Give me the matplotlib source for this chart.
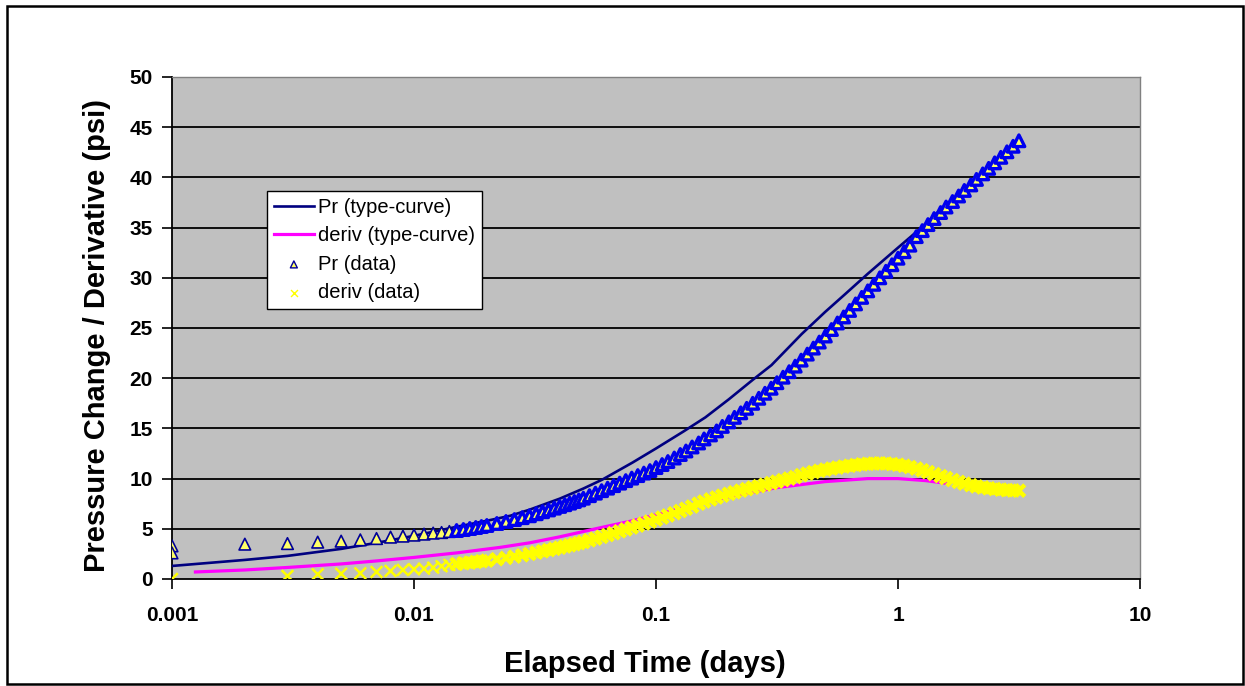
import matplotlib
matplotlib.use("Agg")
import matplotlib.pyplot as plt
from matplotlib.patches import Rectangle
from matplotlib.ticker import FixedLocator, NullLocator

plt.rcParams['font.family'] = ['Liberation Sans', 'DejaVu Sans']

# ---- type-curve (model) series ----
tc_time = [0.001, 0.0015, 0.002, 0.003, 0.005, 0.007, 0.01, 0.015, 0.02, 0.025,
           0.03, 0.04, 0.05, 0.06, 0.08, 0.1, 0.13, 0.16, 0.2, 0.25, 0.3, 0.4,
           0.5, 0.6, 0.75, 1.0, 1.25, 1.5, 1.7]
tc_pr = [1.3, 1.65, 1.9, 2.3, 3.0, 3.6, 4.3, 5.2, 5.8, 6.3,
         6.9, 8.0, 9.0, 9.9, 11.6, 13.0, 14.7, 16.1, 17.9, 19.8, 21.3, 24.4,
         26.6, 28.3, 30.4, 33.0, 35.0, 36.8, 37.9]

tcd_time = [0.00125, 0.002, 0.003, 0.005, 0.007, 0.01, 0.015, 0.0227, 0.03, 0.04,
            0.0587, 0.08, 0.1, 0.152, 0.2, 0.316, 0.5, 0.75, 1.0, 1.3, 1.62]
tcd_deriv = [0.7, 0.9, 1.15, 1.5, 1.8, 2.15, 2.6, 3.15, 3.6, 4.2,
             5.1, 5.8, 6.4, 7.5, 8.2, 9.1, 9.7, 10.0, 10.0, 9.8, 9.5]

# ---- measured data ----
data_time = [0.001, 0.001, 0.002, 0.003, 0.004, 0.005, 0.006, 0.007, 0.008, 0.009,
             0.010, 0.011, 0.012, 0.013, 0.014, 0.015, 0.016, 0.017, 0.018, 0.019,
             0.020, 0.022, 0.024, 0.026, 0.028, 0.030, 0.032, 0.034, 0.036, 0.038,
             0.040, 0.042, 0.044, 0.046, 0.048,
             0.0501, 0.0531, 0.0562, 0.0596, 0.0631, 0.0668, 0.0708, 0.0750, 0.0794,
             0.0841, 0.0891, 0.0944, 0.100, 0.106, 0.112, 0.119, 0.126, 0.133, 0.141,
             0.150, 0.158, 0.168, 0.178, 0.188, 0.200, 0.211, 0.224, 0.237, 0.251,
             0.266, 0.282, 0.299, 0.316, 0.335, 0.355, 0.376, 0.398, 0.422, 0.447,
             0.473, 0.501, 0.531, 0.562, 0.596, 0.631, 0.668, 0.708, 0.750, 0.794,
             0.841, 0.891, 0.944, 1.00, 1.06, 1.12, 1.19, 1.26, 1.33, 1.41,
             1.50, 1.58, 1.68, 1.78, 1.88, 2.00, 2.11, 2.24, 2.37, 2.51,
             2.66, 2.82, 2.99, 3.16]
data_pr = [3.3, 2.6, 3.47, 3.53, 3.67, 3.77, 3.90, 4.03, 4.17, 4.27,
           4.37, 4.47, 4.57, 4.63, 4.73, 4.83, 4.93, 5.03, 5.13, 5.23,
           5.33, 5.53, 5.73, 5.92, 6.11, 6.30, 6.50, 6.70, 6.88, 7.06,
           7.23, 7.40, 7.56, 7.72, 7.88,
           8.05, 8.30, 8.55, 8.80, 9.05, 9.30, 9.55, 9.80, 10.05,
           10.30, 10.55, 10.80, 11.10, 11.40, 11.70, 12.05, 12.40, 12.75, 13.15,
           13.55, 13.95, 14.35, 14.75, 15.20, 15.65, 16.10, 16.55, 17.00, 17.50,
           18.00, 18.50, 19.00, 19.55, 20.10, 20.65, 21.20, 21.80, 22.40, 23.00,
           23.60, 24.20, 24.85, 25.50, 26.10, 26.75, 27.40, 28.05, 28.70, 29.35,
           30.00, 30.65, 31.30, 31.95, 32.60, 33.25, 34.10, 34.70, 35.30, 35.90,
           36.50, 37.05, 37.60, 38.15, 38.70, 39.25, 39.80, 40.35, 40.90, 41.45,
           42.00, 42.55, 43.10, 43.65]

deriv_time = [0.001, 0.003, 0.004, 0.005, 0.006, 0.007, 0.008, 0.009,
              0.010, 0.011, 0.012, 0.013, 0.014, 0.015, 0.016, 0.017, 0.018, 0.019,
              0.020, 0.022, 0.024, 0.026, 0.028, 0.030, 0.032, 0.034, 0.036, 0.038,
              0.040, 0.042, 0.044, 0.046, 0.048,
              0.0501, 0.0531, 0.0562, 0.0596, 0.0631, 0.0668, 0.0708, 0.0750, 0.0794,
              0.0841, 0.0891, 0.0944, 0.100, 0.106, 0.112, 0.119, 0.126, 0.133, 0.141,
              0.150, 0.158, 0.168, 0.178, 0.188, 0.200, 0.211, 0.224, 0.237, 0.251,
              0.266, 0.282, 0.299, 0.316, 0.335, 0.355, 0.376, 0.398, 0.422, 0.447,
              0.473, 0.501, 0.531, 0.562, 0.596, 0.631, 0.668, 0.708, 0.750, 0.794,
              0.841, 0.891, 0.944, 1.00, 1.06, 1.12, 1.19, 1.26, 1.33, 1.41,
              1.50, 1.58, 1.68, 1.78, 1.88, 2.00, 2.11, 2.24, 2.37, 2.51,
              2.66, 2.82, 2.99, 3.16]
deriv_val = [0.0, 0.30, 0.47, 0.53, 0.57, 0.70, 0.80, 0.90,
             0.97, 1.03, 1.13, 1.27, 1.40, 1.50, 1.57, 1.63, 1.70, 1.77,
             1.83, 1.97, 2.10, 2.23, 2.36, 2.50, 2.63, 2.76, 2.88, 3.00,
             3.12, 3.24, 3.35, 3.46, 3.57,
             3.68, 3.85, 4.02, 4.20, 4.38, 4.56, 4.75, 4.94, 5.13,
             5.32, 5.52, 5.72, 5.92, 6.12, 6.33, 6.55, 6.77, 7.00, 7.22,
             7.50, 7.72, 7.93, 8.12, 8.30, 8.48, 8.64, 8.80, 8.95, 9.10,
             9.25, 9.40, 9.55, 9.70, 9.85, 10.00, 10.15, 10.35, 10.50, 10.65,
             10.78, 10.90, 11.00, 11.10, 11.20, 11.28, 11.35, 11.42, 11.47, 11.50,
             11.52, 11.50, 11.45, 11.38, 11.28, 11.15, 11.00, 10.83, 10.65, 10.45,
             10.25, 10.05, 9.85, 9.67, 9.50, 9.35, 9.22, 9.12, 9.03, 8.96,
             8.90, 8.85, 8.82, 8.80]

x_ticks = [0.001, 0.01, 0.1, 1, 10]
x_tick_labels = ["0.001", "0.01", "0.1", "1", "10"]
y_ticks = [0, 5, 10, 15, 20, 25, 30, 35, 40, 45, 50]

fig = plt.figure(figsize=(12.45, 6.86), dpi=100)
fig.patch.set_facecolor("white")
ax = fig.add_axes([172 / 1245, 1 - 579 / 686, 968 / 1245, 502 / 686])
ax.set_facecolor("#C0C0C0")

ax.set_xscale("log")
ax.set_xlim(0.001, 10)
ax.set_ylim(0, 50)

# horizontal gridlines
for yv in y_ticks[1:-1]:
    ax.axhline(yv, color="black", lw=1.3, zorder=1)

ax.plot(tc_time, tc_pr, color="#000080", lw=1.9, zorder=3, label="Pr (type-curve)")
ax.plot(tcd_time, tcd_deriv, color="#FF00FF", lw=2.3, zorder=3, label="deriv (type-curve)")

# sparse early samples get thin outlines; where samples crowd together the
# overlapping outlines merge into a solid band
pr_edge = [1.2 if t < 0.015 else 2.4 for t in data_time]
pr_edgecolor = ["#000099" if t < 0.015 else "#0000EE" for t in data_time]
ax.scatter(data_time, data_pr, marker="^", s=70, facecolors="#FFFF66",
           edgecolors=pr_edgecolor, linewidths=pr_edge, zorder=4, label="Pr (data)")

dv_edge = [1.8 if t < 0.015 else 3.2 for t in deriv_time]
ax.scatter(deriv_time, deriv_val, marker="x", s=70, color="#FFFF00",
           linewidths=dv_edge, zorder=5, label="deriv (data)")

ax.xaxis.set_major_locator(FixedLocator(x_ticks))
ax.xaxis.set_minor_locator(NullLocator())
ax.set_xticklabels(x_tick_labels)
ax.yaxis.set_major_locator(FixedLocator(y_ticks))

ax.tick_params(axis="x", direction="out", length=7, width=1.2, pad=12.5,
               labelsize=15, colors="black")
ax.tick_params(axis="y", direction="out", length=7, width=1.2, pad=7,
               labelsize=15, colors="black")
for lab in ax.get_xticklabels() + ax.get_yticklabels():
    lab.set_fontweight("bold")

for side in ("left", "bottom"):
    ax.spines[side].set_color("black")
    ax.spines[side].set_linewidth(1.3)
for side in ("top", "right"):
    ax.spines[side].set_color("#808080")
    ax.spines[side].set_linewidth(1.0)

ax.set_xlabel("Elapsed Time (days)", fontsize=21, fontweight="bold", labelpad=18,
              x=0.4886)
ax.set_ylabel("Pressure Change / Derivative (psi)", fontsize=21, fontweight="bold",
              labelpad=13, y=0.486)

leg = ax.legend(loc="upper left", bbox_to_anchor=(0.0978, 0.7735), borderaxespad=0,
                fontsize=14.5, frameon=True, fancybox=False, framealpha=1,
                edgecolor="black", handlelength=2.0, handletextpad=0.2,
                labelspacing=0.47, borderpad=0.35, markerscale=0.6,
                scatterpoints=1)
leg.get_frame().set_linewidth(1.0)
for h in leg.legend_handles[2:]:
    h.set_linewidths([1.0])

# outer chart border
fig.add_artist(Rectangle((7 / 1245, 1 - 684 / 686), 1236 / 1245, 678 / 686,
                         transform=fig.transFigure, fill=False,
                         edgecolor="black", lw=1.8))

fig.savefig("out.png", dpi=100)
